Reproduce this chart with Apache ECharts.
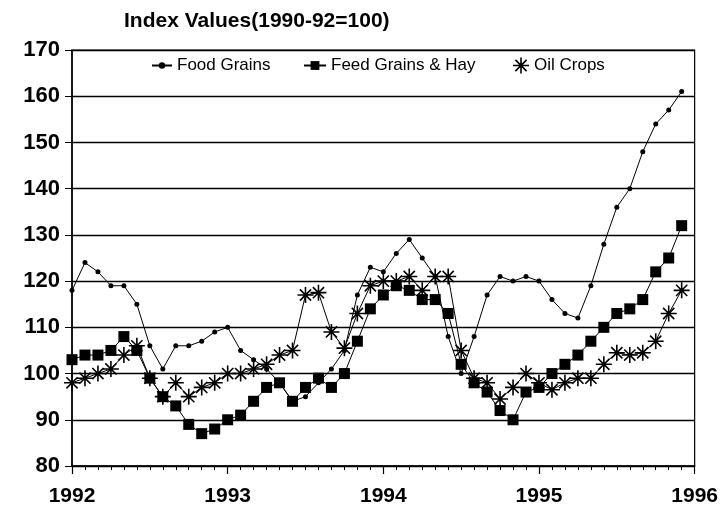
<!DOCTYPE html>
<html>
<head>
<meta charset="utf-8">
<script src="https://cdn.jsdelivr.net/npm/echarts@6/dist/echarts.min.js"></script>
<style>
  html, body { margin: 0; padding: 0; background: #fff; }
  #main { width: 721px; height: 513px; }
</style>
</head>
<body>
<div id="main"></div>
<script>
// monthly index values, Jan 1992 .. Dec 1995
var startYear = 1992;
var yearTicks = ['1992', '1993', '1994', '1995', '1996'];
var seriesNames = ['Food Grains', 'Feed Grains & Hay', 'Oil Crops'];

var foodGrains = [
    118, 124, 122, 119, 119, 115, 106, 101, 106, 106, 107, 109,
    110, 105, 103, 101, 98, 94, 95, 98, 101, 105, 117, 123,
    122, 126, 129, 125, 121, 108, 100, 108, 117, 121, 120, 121,
    120, 116, 113, 112, 119, 128, 136, 140, 148, 154, 157, 161
];
var feedGrains = [
    103, 104, 104, 105, 108, 105, 99, 95, 93, 89, 87, 88,
    90, 91, 94, 97, 98, 94, 97, 99, 97, 100, 107, 114,
    117, 119, 118, 116, 116, 113, 102, 98, 96, 92, 90, 96,
    97, 100, 102, 104, 107, 110, 113, 114, 116, 122, 125, 132
];
var oilCrops = [
    98, 99, 100, 101, 104, 106, 99, 95, 98, 95, 97, 98,
    100, 100, 101, 102, 104, 105, 117, 117.5, 109, 105.5, 113, 119,
    120, 120, 121, 118, 121, 121, 105, 99, 98, 94.5, 97, 100,
    98, 96.5, 98, 99, 99, 102, 104.5, 104, 104.5, 107, 113, 118
];

// asterisk marker (4 crossing bars)
var asterisk = 'path://M-1,-10L1,-10L1,10L-1,10Z' +
    'M-10,-1L10,-1L10,1L-10,1Z' +
    'M-6.3,-7.7L7.7,6.3L6.3,7.7L-7.7,-6.3Z' +
    'M-7.7,6.3L6.3,-7.7L7.7,-6.3L-6.3,7.7Z';

function toPairs(arr){
    var out = [];
    for (var i = 0; i < arr.length; i++){
        out.push([startYear + i / 12, arr[i]]);
    }
    return out;
}

var legendText = { fontFamily: 'Liberation Sans', fontSize: 17, color: '#000' };
function legendAt(left, name, icon, w, h){
    return {
        left: left, top: 52,
        itemWidth: w, itemHeight: h, itemGap: 4,
        icon: icon,
        textStyle: legendText,
        data: [name]
    };
}

var myChart = echarts.init(document.getElementById('main'));
var option = {
    animation: false,
    backgroundColor: '#fff',
    title: {
        text: 'Index Values(1990-92=100)',
        left: 119,
        top: 6,
        textStyle: {
            fontFamily: 'Liberation Sans',
            fontWeight: 'bold',
            fontSize: 21,
            color: '#000'
        }
    },
    legend: [
        legendAt(146, seriesNames[0], null, 20, 8),
        legendAt(298, seriesNames[1], null, 22, 11),
        legendAt(508, seriesNames[2], asterisk, 16, 16)
    ],
    grid: {
        left: 72,
        right: 26,
        top: 50,
        bottom: 47,
        show: true,
        borderColor: '#000',
        borderWidth: 1.2
    },
    xAxis: {
        type: 'value',
        min: 1992,
        max: 1996,
        interval: 1,
        axisLine: { lineStyle: { color: '#000', width: 1.5 } },
        axisTick: { length: 8, lineStyle: { color: '#000', width: 1.2 } },
        minorTick: { show: true, splitNumber: 12, length: 4, lineStyle: { color: '#000' } },
        splitLine: { show: false },
        axisLabel: {
            margin: 20,
            fontFamily: 'Liberation Sans',
            fontWeight: 'bold',
            fontSize: 21,
            color: '#000',
            formatter: function(v){ return yearTicks[Math.round(v - startYear)]; }
        }
    },
    yAxis: {
        type: 'value',
        min: 80,
        max: 170,
        interval: 10,
        axisLine: { show: true, lineStyle: { color: '#000', width: 1.5 } },
        axisTick: { show: true, length: 7, lineStyle: { color: '#000' } },
        splitLine: { lineStyle: { color: '#000', width: 1.3 } },
        axisLabel: {
            margin: 12,
            fontFamily: 'Liberation Sans',
            fontWeight: 'bold',
            fontSize: 22,
            color: '#000'
        }
    },
    series: [
        {
            name: seriesNames[0],
            type: 'line',
            data: toPairs(foodGrains),
            symbol: 'circle',
            symbolSize: 5,
            itemStyle: { color: '#000' },
            lineStyle: { color: '#000', width: 1 }
        },
        {
            name: seriesNames[1],
            type: 'line',
            data: toPairs(feedGrains),
            symbol: 'rect',
            symbolSize: 11,
            itemStyle: { color: '#000' },
            lineStyle: { color: '#000', width: 1 }
        },
        {
            name: seriesNames[2],
            type: 'line',
            data: toPairs(oilCrops),
            symbol: asterisk,
            symbolSize: 16,
            itemStyle: { color: '#000' },
            lineStyle: { color: '#000', width: 1 }
        }
    ]
};
myChart.setOption(option);
</script>
</body>
</html>
